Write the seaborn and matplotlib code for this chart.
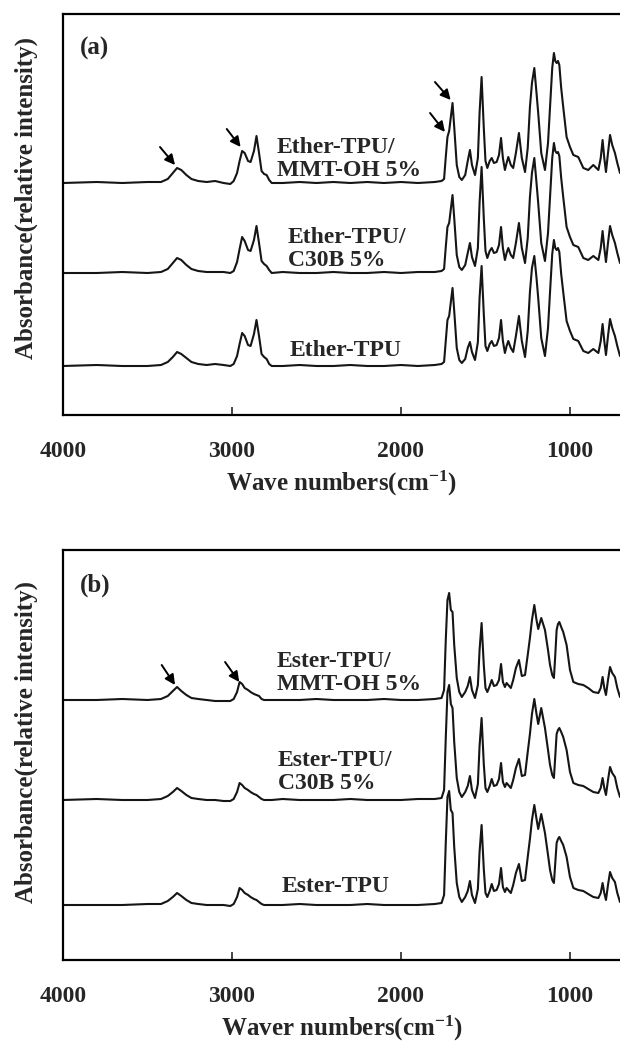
# FTIR spectra of ether- and ester-based TPU nanocomposites
import pandas as pd
from matplotlib import pyplot as plt
import seaborn as sns

sns.set_style('white')
plt.rcParams['font.family'] = ['Liberation Serif', 'DejaVu Serif']
plt.rcParams['font.weight'] = 'bold'
plt.rcParams['mathtext.fontset'] = 'custom'
plt.rcParams['mathtext.rm'] = 'Liberation Serif:bold'
plt.rcParams['mathtext.it'] = 'Liberation Serif:bold'
plt.rcParams['mathtext.bf'] = 'Liberation Serif:bold'

# wave numbers (cm-1), shared by all six spectra
wave_numbers = [4000, 3800, 3650, 3500, 3420, 3380, 3350, 3325, 3300, 3270,
                3240, 3200, 3150, 3100, 3050, 3010, 2990, 2970, 2955, 2940,
                2925, 2905, 2890, 2870, 2855, 2840, 2825, 2810, 2795, 2780,
                2765, 2700, 2600, 2500, 2400, 2300, 2200, 2100, 2000, 1900,
                1800, 1760, 1745, 1735, 1725, 1715, 1705, 1695, 1685, 1670,
                1655, 1640, 1620, 1605, 1592, 1580, 1562, 1545, 1535, 1523,
                1510, 1500, 1489, 1475, 1463, 1450, 1434, 1420, 1408, 1397,
                1385, 1375, 1365, 1350, 1336, 1320, 1302, 1285, 1266, 1250,
                1237, 1225, 1211, 1198, 1188, 1170, 1148, 1130, 1118, 1105,
                1095, 1087, 1079, 1071, 1063, 1052, 1040, 1020, 1000, 980,
                951, 921, 892, 862, 832, 818, 807, 797, 787, 775,
                763, 750, 734, 720, 704]

# (a) ether-TPU series (absorbance, arbitrary units above each baseline)
ether_mmt = [0, 1, 0, 1, 1, 4, 10, 15, 13, 8,
             4, 2, 1, 2, 0, -1, 2, 10, 22, 32,
             30, 22, 21, 32, 47, 30, 12, 9, 8, 3,
             0, 0, 1, 0, 1, 0, 1, 0, 1, 0,
             1, 2, 4, 26, 46, 52, 66, 80, 56, 18,
             6, 3, 8, 22, 33, 18, 8, 25, 70, 106,
             55, 22, 15, 22, 25, 20, 21, 28, 45, 25,
             13, 20, 26, 18, 15, 30, 50, 25, 11, 35,
             76, 100, 115, 90, 70, 30, 13, 40, 76, 115,
             130, 122, 120, 122, 118, 95, 76, 46, 36, 28,
             26, 15, 13, 18, 13, 25, 43, 25, 11, 30,
             48, 38, 30, 20, 10]
ether_c30b = [0, 0, 1, 0, 1, 4, 10, 15, 13, 8,
              4, 2, 1, 1, 1, 0, 2, 11, 24, 36,
              32, 23, 22, 33, 47, 30, 12, 9, 7, 3,
              0, 1, 0, 0, 1, 0, 0, 1, 0, 1,
              1, 2, 4, 26, 46, 50, 64, 78, 55, 18,
              6, 3, 8, 20, 30, 16, 7, 25, 70, 106,
              55, 22, 15, 22, 25, 20, 21, 28, 46, 25,
              13, 20, 25, 18, 15, 30, 50, 25, 10, 35,
              76, 100, 115, 90, 70, 30, 12, 40, 76, 115,
              130, 122, 120, 121, 117, 95, 76, 46, 36, 28,
              26, 15, 13, 17, 13, 25, 42, 25, 11, 30,
              47, 38, 30, 20, 10]
ether_tpu = [0, 1, 0, 0, 1, 4, 9, 14, 12, 8,
             4, 2, 1, 2, 1, 0, 2, 10, 22, 33,
             30, 21, 20, 32, 46, 30, 12, 9, 7, 2,
             0, 0, 1, 0, 0, 1, 0, 0, 1, 0,
             1, 2, 4, 25, 46, 50, 64, 78, 55, 18,
             6, 3, 7, 18, 24, 14, 6, 24, 68, 100,
             52, 20, 15, 22, 25, 20, 21, 28, 46, 25,
             13, 20, 25, 18, 14, 30, 50, 25, 9, 35,
             74, 98, 110, 88, 68, 28, 10, 38, 74, 112,
             126, 118, 116, 118, 114, 92, 74, 45, 35, 27,
             25, 15, 13, 17, 13, 25, 42, 25, 11, 30,
             47, 38, 30, 20, 10]

# (b) ester-TPU series
ester_mmt = [0, 0, 1, 0, 1, 4, 9, 13, 9, 5,
             2, 1, 0, -1, -1, -1, 1, 8, 18, 16,
             12, 10, 8, 6, 5, 4, 1, 0, 0, 0,
             0, 0, 0, 1, 0, 0, 0, 1, 0, 0,
             1, 2, 10, 60, 100, 107, 90, 88, 55, 22,
             8, 3, 8, 14, 23, 10, 2, 15, 50, 77,
             35, 12, 8, 14, 20, 14, 15, 20, 36, 18,
             13, 17, 15, 12, 20, 32, 40, 24, 25, 45,
             62, 80, 95, 80, 71, 82, 70, 50, 35, 25,
             22, 45, 70, 76, 78, 73, 68, 55, 30, 18,
             16, 15, 12, 8, 7, 12, 23, 12, 5, 20,
             33, 27, 23, 12, 3]
ester_c30b = [0, 1, 0, 0, 1, 4, 8, 12, 9, 5,
              2, 1, 0, 0, -1, -1, 1, 8, 17, 15,
              12, 10, 8, 6, 5, 3, 1, 0, 0, 0,
              0, 1, 0, 0, 0, 1, 0, 0, 0, 1,
              1, 2, 10, 62, 108, 115, 96, 92, 58, 22,
              8, 3, 8, 14, 24, 10, 2, 16, 54, 82,
              36, 12, 8, 14, 21, 14, 15, 21, 37, 18,
              13, 17, 15, 12, 20, 32, 41, 24, 25, 48,
              66, 86, 101, 86, 76, 92, 72, 50, 35, 25,
              22, 44, 66, 70, 72, 68, 63, 50, 28, 17,
              15, 14, 11, 8, 7, 12, 22, 12, 5, 20,
              33, 27, 23, 12, 3]
ester_tpu = [0, 0, 0, 1, 1, 4, 8, 12, 9, 5,
             2, 1, 0, 0, 0, -1, 1, 8, 17, 15,
             12, 10, 8, 6, 5, 3, 1, 0, 0, 0,
             0, 0, 1, 0, 0, 0, 1, 0, 0, 0,
             1, 2, 10, 62, 108, 114, 95, 92, 58, 22,
             8, 3, 8, 14, 24, 10, 2, 16, 53, 80,
             36, 12, 8, 14, 21, 14, 15, 21, 37, 18,
             13, 17, 15, 12, 20, 32, 41, 24, 25, 48,
             66, 85, 100, 86, 76, 91, 72, 50, 35, 25,
             22, 42, 62, 66, 68, 64, 60, 48, 28, 17,
             15, 14, 11, 8, 7, 12, 22, 12, 5, 20,
             33, 27, 23, 12, 3]

ether_labels = ['Ether-TPU/\nMMT-OH 5%', 'Ether-TPU/\nC30B 5%', 'Ether-TPU']
ester_labels = ['Ester-TPU/\nMMT-OH 5%', 'Ester-TPU/\nC30B 5%', 'Ester-TPU']
ether_offsets = [232, 142, 49]
ester_offsets = [260, 160, 55]
x_ticks = [4000, 3000, 2000, 1000]

LINE = '#151515'
FS = 17


def draw_panel(ax, spectra, offsets, labels, label_xy, arrows, tag, xlabel, ytop):
    frames = []
    for name, vals, off in zip(labels, spectra, offsets):
        frames.append(pd.DataFrame({'wn': wave_numbers,
                                    'y': [v + off for v in vals],
                                    'sample': name}))
    df = pd.concat(frames)
    sns.lineplot(data=df, x='wn', y='y', units='sample', estimator=None,
                 sort=False, color=LINE, lw=1.5, legend=False, ax=ax)
    ax.set_xlim(4000, 704)
    ax.set_ylim(0, ytop)
    ax.set_yticks([])
    ax.set_xticks(x_ticks)
    ax.set_xticklabels([str(t) for t in x_ticks], fontsize=FS, fontweight='bold')
    ax.tick_params(axis='x', direction='in', length=6, width=1.2, pad=19,
                   bottom=True, top=False)
    for s in ['left', 'bottom', 'top']:
        ax.spines[s].set_color('black')
        ax.spines[s].set_linewidth(1.6)
    ax.spines['right'].set_visible(False)
    ax.set_ylabel('')
    ax.set_xlabel(xlabel, fontsize=18, fontweight='bold', labelpad=5)
    for lab, (x, y) in zip(labels, label_xy):
        ax.text(x, y, lab, fontsize=FS, fontweight='bold', ha='left',
                va='center', linespacing=1.15)
    for tail, tip in arrows:
        ax.annotate('', xy=tip, xytext=tail,
                    arrowprops=dict(arrowstyle='-|>', color='black', lw=1.4,
                                    mutation_scale=15, shrinkA=0, shrinkB=0))
    ax.text(0.03, 0.915, tag, transform=ax.transAxes, fontsize=18,
            fontweight='bold', ha='left', va='center')


fig = plt.figure(figsize=(6.2, 10.42), dpi=100)
ax_a = fig.add_axes([63 / 620, 1 - 415 / 1042, 557 / 620, 401 / 1042])
ax_b = fig.add_axes([63 / 620, 1 - 960 / 1042, 557 / 620, 410 / 1042])

draw_panel(ax_a, [ether_mmt, ether_c30b, ether_tpu], ether_offsets, ether_labels,
           [(2734, 256), (2669, 166), (2657, 65)],
           [((3426, 268), (3337, 250)), ((3031, 286), (2949, 268)),
            ((1799, 333), (1706, 315)), ((1828, 302), (1740, 283))],
           '(a)', r'Wave numbers(cm$^{-1}$)', 401)
draw_panel(ax_b, [ester_mmt, ester_c30b, ester_tpu], ester_offsets, ester_labels,
           [(2734, 287), (2728, 188), (2704, 73)],
           [((3416, 295), (3337, 275)), ((3041, 298), (2957, 278))],
           '(b)', r'Waver numbers(cm$^{-1}$)', 410)

fig.text(26 / 620, 1 - 198 / 1042, 'Absorbance(relative intensity)', rotation=90,
         fontsize=18, fontweight='bold', ha='center', va='center')
fig.text(26 / 620, 1 - 742 / 1042, 'Absorbance(relative intensity)', rotation=90,
         fontsize=18, fontweight='bold', ha='center', va='center')

fig.savefig('out.png', dpi=100, facecolor='white')
